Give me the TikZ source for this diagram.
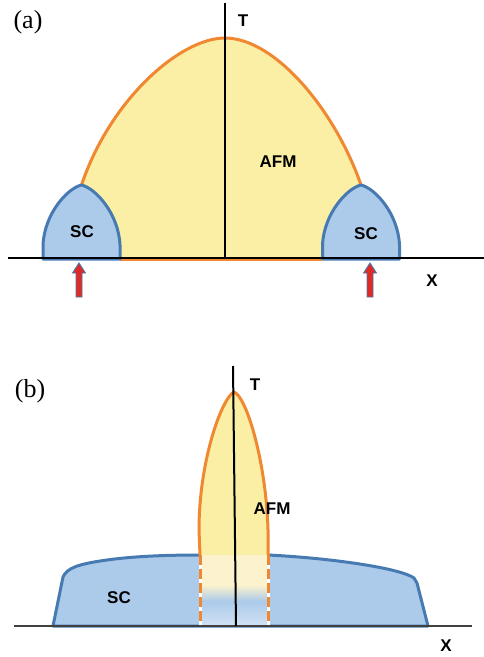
\documentclass[tikz,border=0pt]{standalone}
\usepackage{fontspec}
\setmainfont{Liberation Serif}
\setsansfont{Liberation Sans}
\usepackage{tikz}
\usetikzlibrary{calc}

\definecolor{afmfill}{RGB}{250,239,165}
\definecolor{afmline}{RGB}{240,136,50}
\definecolor{scfill}{RGB}{172,202,234}
\definecolor{scline}{RGB}{72,122,178}
\definecolor{arrowred}{RGB}{222,42,36}
\definecolor{stripcream}{RGB}{252,242,205}

\begin{document}
\begin{tikzpicture}[x=1pt, y=-1pt,
  every node/.style={font=\sffamily\bfseries\fontsize{17}{20}\selectfont, inner sep=0pt},
  panel/.style={font=\rmfamily\fontsize{26}{30}\selectfont},
  axis/.style={line width=2pt},
  afmedge/.style={draw=afmline, line width=3pt, line join=round},
  scedge/.style={draw=scline, fill=scfill, line width=3pt, line join=round},
  uparrow/.style={fill=arrowred, draw=scline, line width=0.9pt}]

  \useasboundingbox (0,0) rectangle (484,657);

  % =========================
  % (a) dome with two SC pockets
  % =========================
  \begin{scope}[shift={(0,0)}]
    % AFM dome
    \fill[afmfill] (81.5,185) .. controls (110,100) and (180,38) .. (225,38)
      .. controls (275,38) and (335,110) .. (361,185) -- (361,259) -- (81.5,259) -- cycle;
    \draw[afmedge] (81.5,185) .. controls (110,100) and (180,38) .. (225,38)
      .. controls (275,38) and (335,110) .. (361,185);
    \draw[afmline, line width=2pt] (120,259.5) -- (322,259.5);

    % SC pockets
    \foreach \cx in {81.5,361}{
      \path[scedge] (\cx-38.5,259) -- (\cx-38.5,245)
        .. controls (\cx-37,213) and (\cx-13.5,188) .. (\cx,185)
        .. controls (\cx+13.5,188) and (\cx+37,213) .. (\cx+38.5,245)
        -- (\cx+38.5,259) -- cycle;
    }

    % axes
    \draw[axis] (8,258) -- (484,258);
    \draw[axis] (225,3) -- (225,258);

    % doping arrows
    \foreach \ax in {79,370}{
      \filldraw[uparrow] (\ax-3,297) -- (\ax-3,273) -- (\ax-6.5,273) -- (\ax,263)
        -- (\ax+6.5,273) -- (\ax+3,273) -- (\ax+3,297) -- cycle;
    }

    % labels
    \node[panel] (capA) at (28,22) {(a)};
    \node (tA) at (243,21) {T};
    \node (afmA) at (278,162) {AFM};
    \node (scAleft) at (82,232) {SC};
    \node (scAright) at (366,234) {SC};
    \node (xA) at (432,281) {X};
  \end{scope}

  % =========================
  % (b) spike over a wide SC dome
  % =========================
  \begin{scope}[shift={(0,360)}]
    % SC dome
    \path[scedge] (53,266) -- (63,217)
      .. controls (67,208) and (78,204) .. (107,200)
      .. controls (135,196) and (170,195) .. (200,195) -- (268,195)
      .. controls (330,198) and (400,208) .. (414,218)
      .. controls (416,220) .. (417,223) -- (428,266) -- cycle;

    % strip under the spike
    \fill[stripcream] (200,194) rectangle (268,225);
    \shade[top color=stripcream, bottom color=scfill] (200,225) rectangle (268,241);
    \shade[top color=scfill, bottom color=scfill!55!white] (200,241) rectangle (268,266);

    % AFM spike
    \path[fill=afmfill, afmedge] (200,195) -- (199,170)
      .. controls (199,100) and (222,38) .. (234,32)
      .. controls (246,36) and (266,100) .. (268,170) -- (268,195);

    % dashed continuation
    \foreach \sx in {200,268}{
      \draw[white, line width=3pt] (\sx,195) -- (\sx,266);
      \draw[afmline, line width=3pt, dash pattern=on 10pt off 4pt] (\sx,195) -- (\sx,266);
    }

    % axes
    \draw[axis, black!75] (14,266) -- (472,266);
    \draw[axis] (233,6) -- (236,266);

    % labels
    \node[panel] (capB) at (30,31) {(b)};
    \node (tB) at (255,25) {T};
    \node (afmB) at (272,149) {AFM};
    \node (scB) at (119,238) {SC};
    \node (xB) at (446,286) {X};
  \end{scope}

\end{tikzpicture}
\end{document}
